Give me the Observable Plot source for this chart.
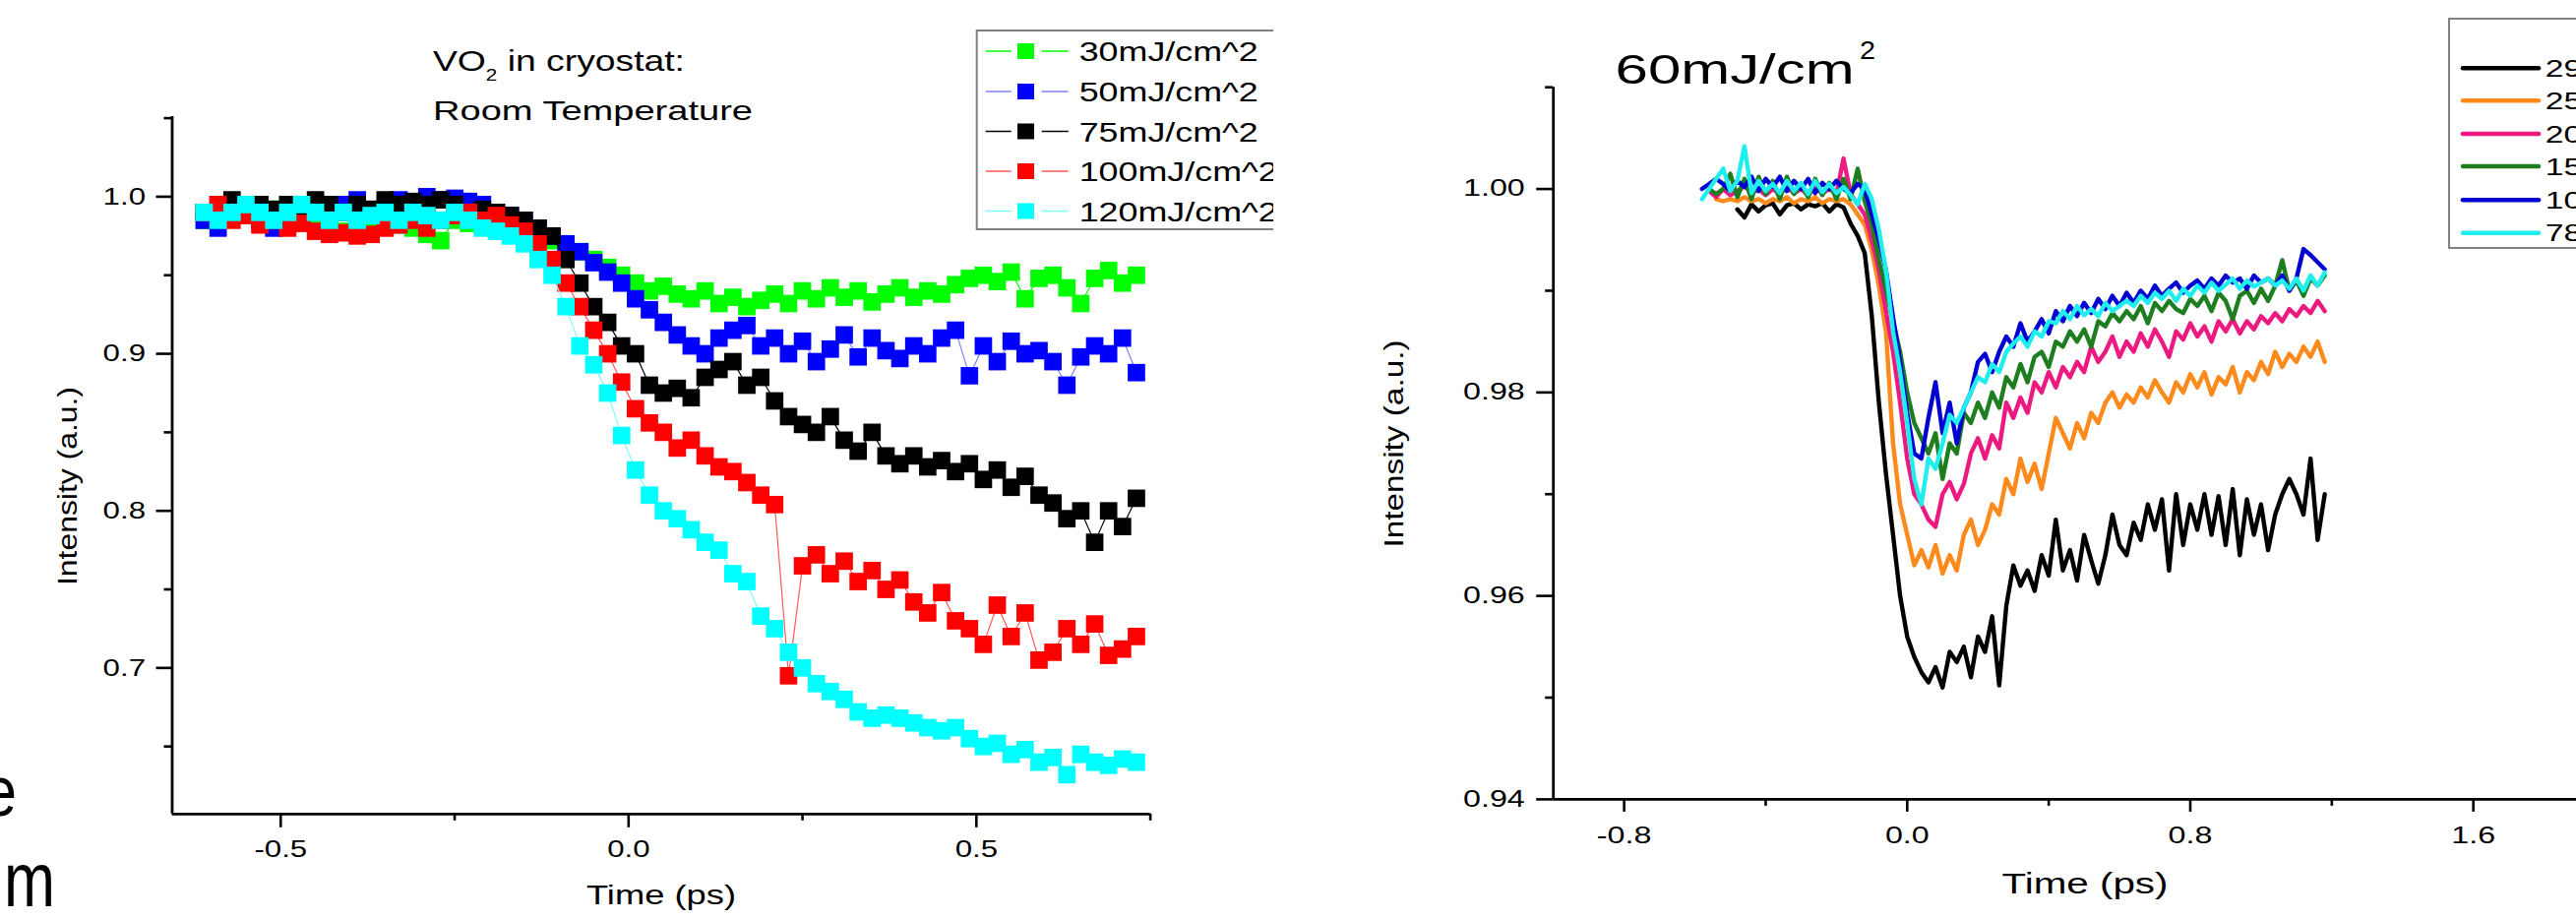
<!DOCTYPE html>
<html><head><meta charset="utf-8">
<script src="https://cdn.jsdelivr.net/npm/d3@7"></script>
<script src="https://cdn.jsdelivr.net/npm/@observablehq/plot@0.6"></script>
<style>
html,body{margin:0;padding:0;background:#fff;overflow:hidden;}
#page{position:relative;width:2618px;height:934px;overflow:hidden;background:#fff;}
#page > *{position:absolute;top:0;}
</style></head><body><div id="page"></div>
<script>
// ---------- LEFT PANEL DATA ----------
const leftTime = [-0.61,-0.59,-0.57,-0.55,-0.53,-0.51,-0.49,-0.47,-0.45,-0.43,-0.41,-0.39,-0.37,-0.35,-0.33,-0.31,-0.29,-0.27,-0.25,-0.23,-0.21,-0.19,-0.17,-0.15,-0.13,-0.11,-0.09,-0.07,-0.05,-0.03,-0.01,0.01,0.03,0.05,0.07,0.09,0.11,0.13,0.15,0.17,0.19,0.21,0.23,0.25,0.27,0.29,0.31,0.33,0.35,0.37,0.39,0.41,0.43,0.45,0.47,0.49,0.51,0.53,0.55,0.57,0.59,0.61,0.63,0.65,0.67,0.69,0.71,0.73];
const leftSeries = ["30mJ/cm^2","50mJ/cm^2","75mJ/cm^2","100mJ/cm^2","120mJ/cm^2"];
const left30 = [0.985,0.990,0.995,0.990,0.988,0.992,0.985,0.990,0.984,0.980,
0.978,0.982,0.980,0.985,0.982,0.980,0.976,0.972,0.985,0.983,
0.982,0.985,0.980,0.978,0.975,0.972,0.968,0.965,0.960,0.955,
0.950,0.945,0.940,0.943,0.938,0.935,0.940,0.932,0.936,0.930,
0.934,0.938,0.932,0.940,0.935,0.942,0.936,0.940,0.933,0.938,
0.942,0.936,0.940,0.938,0.944,0.948,0.950,0.946,0.952,0.935,
0.948,0.950,0.942,0.932,0.948,0.953,0.945,0.950];
const left50 = [0.985,0.980,0.990,0.995,0.985,0.980,0.990,0.985,0.995,0.990,
0.995,0.998,0.990,0.992,0.998,0.995,1.000,0.998,0.999,0.997,
0.995,0.990,0.988,0.985,0.980,0.975,0.970,0.965,0.958,0.952,
0.945,0.935,0.928,0.920,0.912,0.905,0.900,0.910,0.915,0.918,
0.905,0.910,0.900,0.908,0.895,0.903,0.912,0.898,0.910,0.902,
0.897,0.905,0.900,0.910,0.915,0.886,0.905,0.895,0.908,0.900,
0.902,0.895,0.880,0.898,0.905,0.900,0.910,0.888];
const left75 = [0.990,0.995,0.998,0.990,0.995,0.992,0.995,0.990,0.998,0.995,
0.990,0.995,0.992,0.998,0.995,0.997,0.995,0.998,0.995,0.990,
0.992,0.990,0.988,0.985,0.980,0.975,0.960,0.945,0.930,0.920,
0.905,0.900,0.880,0.875,0.878,0.872,0.885,0.890,0.895,0.880,
0.885,0.870,0.860,0.855,0.850,0.860,0.845,0.838,0.850,0.835,
0.830,0.835,0.828,0.832,0.825,0.830,0.820,0.826,0.815,0.822,
0.810,0.805,0.795,0.800,0.780,0.800,0.790,0.808];
const left100 = [0.990,0.995,0.985,0.988,0.982,0.985,0.980,0.983,0.978,0.976,
0.977,0.975,0.976,0.980,0.982,0.985,0.980,0.985,0.988,0.990,
0.985,0.988,0.982,0.978,0.970,0.960,0.945,0.930,0.915,0.900,
0.882,0.865,0.856,0.850,0.840,0.845,0.835,0.828,0.825,0.818,
0.810,0.804,0.695,0.765,0.772,0.760,0.768,0.755,0.762,0.750,
0.756,0.742,0.735,0.748,0.730,0.725,0.715,0.740,0.720,0.735,
0.705,0.710,0.725,0.715,0.728,0.708,0.712,0.720];
const left120 = [0.990,0.985,0.990,0.995,0.990,0.985,0.990,0.995,0.990,0.985,
0.990,0.985,0.988,0.990,0.985,0.990,0.988,0.985,0.990,0.985,
0.980,0.978,0.975,0.970,0.960,0.950,0.930,0.905,0.893,0.875,
0.848,0.826,0.810,0.800,0.795,0.788,0.780,0.775,0.760,0.755,
0.733,0.725,0.710,0.700,0.690,0.685,0.680,0.672,0.668,0.670,
0.668,0.665,0.662,0.660,0.662,0.655,0.650,0.652,0.645,0.648,
0.640,0.643,0.632,0.645,0.640,0.638,0.642,0.640];
const leftYTicks = [0.7,0.8,0.9,1.0];
const leftYMinor = [0.65,0.75,0.85,0.95,1.05];
const leftXTicks = [-0.5,0.0,0.5];
const leftXMinor = [-0.25,0.25,0.75];

// ---------- RIGHT PANEL DATA ----------
const rightTime = [-0.58,-0.56,-0.54,-0.52,-0.50,-0.48,-0.46,-0.44,-0.42,-0.40,
-0.38,-0.36,-0.34,-0.32,-0.30,-0.28,-0.26,-0.24,-0.22,-0.20,
-0.18,-0.16,-0.14,-0.12,-0.10,-0.08,-0.06,-0.04,-0.02,0.00,
0.02,0.04,0.06,0.08,0.10,0.12,0.14,0.16,0.18,0.20,
0.22,0.24,0.26,0.28,0.30,0.32,0.34,0.36,0.38,0.40,
0.42,0.44,0.46,0.48,0.50,0.52,0.54,0.56,0.58,0.60,
0.62,0.64,0.66,0.68,0.70,0.72,0.74,0.76,0.78,0.80,
0.82,0.84,0.86,0.88,0.90,0.92,0.94,0.96,0.98,1.00,
1.02,1.04,1.06,1.08,1.10,1.12,1.14,1.16,1.18];
const rightSeries = ["29","25","20","15","10","78"];
const r29 = [null,null,null,null,null,0.9980,0.9972,0.9985,0.9978,0.9984,
0.9986,0.9975,0.9984,0.9986,0.9980,0.9985,0.9983,0.9986,0.9978,0.9985,
0.9982,0.9966,0.9954,0.9937,0.9875,0.9790,0.9720,0.9660,0.9600,0.9560,
0.9540,0.9525,0.9515,0.9530,0.9510,0.9545,0.9535,0.9550,0.9520,0.9560,
0.9545,0.9580,0.9512,0.9590,0.9630,0.9610,0.9625,0.9605,0.9640,0.9620,
0.9675,0.9625,0.9645,0.9615,0.9660,0.9635,0.9612,0.9640,0.9680,0.9650,
0.9640,0.9672,0.9655,0.9690,0.9665,0.9695,0.9625,0.9700,0.9650,0.9690,
0.9665,0.9700,0.9660,0.9698,0.9650,0.9705,0.9640,0.9695,0.9660,0.9690,
0.9645,0.9680,0.9700,0.9715,0.9700,0.9680,0.9735,0.9655,0.9700];
const r25 = [null,null,0.9990,0.9988,0.9990,0.9988,0.9992,0.9988,0.9990,0.9986,
0.9990,0.9988,0.9992,0.9986,0.9990,0.9988,0.9992,0.9986,0.9990,0.9988,
0.9990,0.9985,0.9975,0.9965,0.9940,0.9905,0.9860,0.9750,0.9690,0.9660,
0.9630,0.9645,0.9628,0.9650,0.9622,0.9640,0.9625,0.9660,0.9675,0.9650,
0.9665,0.9690,0.9680,0.9715,0.9700,0.9735,0.9712,0.9730,0.9705,0.9740,
0.9775,0.9760,0.9745,0.9770,0.9755,0.9780,0.9770,0.9790,0.9800,0.9785,
0.9798,0.9790,0.9805,0.9795,0.9812,0.9800,0.9790,0.9810,0.9800,0.9818,
0.9805,0.9820,0.9798,0.9815,0.9808,0.9825,0.9800,0.9820,0.9812,0.9830,
0.9818,0.9840,0.9825,0.9838,0.9830,0.9845,0.9835,0.9850,0.9830];
const r20 = [null,0.9998,0.9992,1.0000,0.9994,0.9998,1.0003,0.9996,1.0000,0.9994,
1.0000,0.9995,1.0002,0.9996,1.0000,0.9994,1.0001,0.9996,1.0000,0.9995,
1.0030,0.9995,0.9985,0.9975,0.9950,0.9920,0.9880,0.9840,0.9790,0.9735,
0.9700,0.9690,0.9675,0.9668,0.9700,0.9712,0.9695,0.9710,0.9740,0.9755,
0.9735,0.9758,0.9745,0.9790,0.9775,0.9795,0.9780,0.9810,0.9800,0.9820,
0.9805,0.9825,0.9815,0.9830,0.9820,0.9845,0.9830,0.9840,0.9855,0.9835,
0.9850,0.9840,0.9858,0.9845,0.9862,0.9850,0.9835,0.9860,0.9852,0.9868,
0.9855,0.9865,0.9850,0.9870,0.9860,0.9872,0.9858,0.9870,0.9862,0.9875,
0.9868,0.9878,0.9870,0.9882,0.9875,0.9885,0.9878,0.9890,0.9880];
const r15 = [null,1.0000,0.9995,1.0000,1.0015,0.9992,1.0010,0.9990,1.0012,0.9995,
1.0008,0.9990,1.0012,0.9995,1.0005,0.9992,1.0010,0.9994,1.0006,0.9990,
1.0010,0.9990,1.0020,0.9988,0.9965,0.9930,0.9900,0.9870,0.9840,0.9800,
0.9770,0.9755,0.9740,0.9760,0.9715,0.9750,0.9740,0.9780,0.9770,0.9790,
0.9775,0.9800,0.9785,0.9815,0.9805,0.9828,0.9810,0.9835,0.9840,0.9825,
0.9850,0.9845,0.9860,0.9850,0.9862,0.9845,0.9870,0.9865,0.9878,0.9870,
0.9880,0.9872,0.9885,0.9868,0.9888,0.9880,0.9890,0.9882,0.9878,0.9892,
0.9885,0.9895,0.9880,0.9898,0.9890,0.9872,0.9895,0.9900,0.9888,0.9902,
0.9890,0.9905,0.9930,0.9900,0.9910,0.9895,0.9912,0.9905,0.9915];
const r10 = [1.0000,1.0005,1.0010,1.0005,0.9998,1.0008,1.0002,1.0012,0.9998,1.0010,
1.0002,1.0012,0.9998,1.0008,1.0000,1.0010,0.9996,1.0006,1.0000,1.0008,
1.0000,0.9996,1.0005,1.0000,0.9975,0.9950,0.9920,0.9874,0.9830,0.9780,
0.9740,0.9735,0.9775,0.9810,0.9760,0.9790,0.9750,0.9785,0.9800,0.9830,
0.9838,0.9820,0.9840,0.9855,0.9845,0.9868,0.9850,0.9860,0.9872,0.9858,
0.9880,0.9870,0.9885,0.9875,0.9888,0.9878,0.9892,0.9882,0.9895,0.9885,
0.9898,0.9888,0.9900,0.9892,0.9905,0.9895,0.9902,0.9908,0.9898,0.9905,
0.9910,0.9902,0.9912,0.9905,0.9915,0.9908,0.9912,0.9902,0.9915,0.9908,
0.9912,0.9905,0.9915,0.9900,0.9912,0.9941,0.9935,0.9928,0.9921];
const r78 = [0.9990,1.0000,1.0010,1.0020,0.9998,1.0008,1.0042,0.9996,1.0008,0.9998,
1.0005,0.9996,1.0008,0.9998,1.0006,0.9995,1.0008,0.9997,1.0005,0.9996,
1.0002,0.9994,0.9985,1.0005,0.9990,0.9960,0.9920,0.9860,0.9820,0.9770,
0.9715,0.9690,0.9735,0.9725,0.9750,0.9778,0.9770,0.9785,0.9800,0.9815,
0.9810,0.9828,0.9820,0.9840,0.9848,0.9855,0.9845,0.9860,0.9855,0.9870,
0.9868,0.9880,0.9872,0.9885,0.9876,0.9882,0.9875,0.9888,0.9880,0.9885,
0.9890,0.9885,0.9895,0.9888,0.9898,0.9892,0.9900,0.9890,0.9902,0.9895,
0.9905,0.9898,0.9908,0.9900,0.9906,0.9912,0.9902,0.9910,0.9904,0.9908,
0.9912,0.9905,0.9910,0.9902,0.9912,0.9900,0.9915,0.9905,0.9918];
const rightYTicks = [0.94,0.96,0.98,1.00];
const rightYMinor = [0.95,0.97,0.99,1.01];
const rightXTicks = [-0.8,0.0,0.8,1.6];
const rightXMinor = [-0.4,0.4,1.2,2.0];

// ---------- STYLE ----------
const FONT = '"Liberation Sans", Arial, Helvetica, sans-serif';
const leftFill = ["#00ff00","#0000ff","#000000","#ff0000","#00ffff"];
const leftLine = ["#00ff00","#8080ff","#000000","#ff5a5a","#80ffff"];
const rightColors = ["#000000","#ff8a1c","#ec1a80","#1e7d1e","#0000d2","#20eeee"];

const rows = (time, vals, s) => time.map((t, i) => ({t, v: vals[i], s}));
const f1 = d => d.toFixed(1);
const f2 = d => d.toFixed(2);

// ---------- LEFT PLOT ----------
const leftVals = [left30, left50, left75, left100, left120];
const leftMarks = [];
leftVals.forEach((vals, k) => {
  const data = rows(leftTime, vals, leftSeries[k]);
  leftMarks.push(Plot.line(data, {x: "t", y: "v", stroke: leftLine[k], strokeWidth: 1.2}));
  leftMarks.push(Plot.dot(data, {x: "t", y: "v", symbol: "square", r: 10, fill: leftFill[k], stroke: "none"}));
});
const LX = [-0.656, 0.75], LY = [0.607, 1.051];
const leftPlot = Plot.plot({
  width: 1294, height: 934,
  marginLeft: 174.5, marginRight: 125.4, marginTop: 118, marginBottom: 107.2,
  x: {domain: LX}, y: {domain: LY},
  style: {fontFamily: FONT, fontSize: "24px", color: "#000", background: "transparent", overflow: "visible"},
  marks: [
    ...leftMarks,
    Plot.ruleX([LX[0]], {stroke: "#000", strokeWidth: 2.8}),
    Plot.ruleY([LY[0]], {stroke: "#000", strokeWidth: 2.8}),
    Plot.axisY({ticks: leftYTicks, tickSize: 16, tickPadding: 11, tickFormat: f1, strokeWidth: 2.6, label: null}),
    Plot.axisY({ticks: leftYMinor, tickSize: 8, tickFormat: () => "", strokeWidth: 2.6, label: null}),
    Plot.axisX({ticks: leftXTicks, tickSize: 14, tickPadding: 13, tickFormat: f1, strokeWidth: 2.6, label: null}),
    Plot.axisX({ticks: leftXMinor, tickSize: 7, tickFormat: () => "", strokeWidth: 2.6, label: null})
  ]
});

// ---------- RIGHT PLOT ----------
const rightVals = [r29, r25, r20, r15, r10, r78];
const rightMarks = rightVals.map((vals, k) =>
  Plot.line(rows(rightTime, vals, rightSeries[k]), {x: "t", y: "v", stroke: rightColors[k], strokeWidth: 4.4, strokeLinejoin: "round"}));
const RX = [-1.0, 2.0], RY = [0.94, 1.01];
const rightPlot = Plot.plot({
  width: 1400, height: 934,
  marginLeft: 278.2, marginRight: 43, marginTop: 88.2, marginBottom: 122.1,
  x: {domain: RX}, y: {domain: RY},
  style: {fontFamily: FONT, fontSize: "23px", color: "#000", background: "transparent", overflow: "visible"},
  marks: [
    ...rightMarks,
    Plot.ruleX([RX[0]], {stroke: "#000", strokeWidth: 2.8}),
    Plot.ruleY([RY[0]], {stroke: "#000", strokeWidth: 2.8}),
    Plot.axisY({ticks: rightYTicks, tickSize: 17, tickPadding: 12, tickFormat: f2, strokeWidth: 2.6, label: null}),
    Plot.axisY({ticks: rightYMinor, tickSize: 8, tickFormat: () => "", strokeWidth: 2.6, label: null}),
    Plot.axisX({ticks: rightXTicks, tickSize: 13, tickPadding: 15, tickFormat: f1, strokeWidth: 2.6, label: null}),
    Plot.axisX({ticks: rightXMinor, tickSize: 7, tickFormat: () => "", strokeWidth: 2.6, label: null})
  ]
});

const page = document.getElementById("page");
leftPlot.style.left = "0px";
rightPlot.style.left = "1300px";
page.appendChild(leftPlot);
page.appendChild(rightPlot);

function stretch(el, S) {
  const L = el.getComputedTextLength();
  if (L > 0) { el.setAttribute("textLength", (L * S).toFixed(1)); el.setAttribute("lengthAdjust", "spacingAndGlyphs"); }
}
leftPlot.querySelectorAll("text").forEach(t => stretch(t, 1.3));
rightPlot.querySelectorAll("text").forEach(t => stretch(t, 1.4));

// ---------- OVERLAY: titles, labels, legends ----------
const ov = d3.create("svg").attr("width", 2618).attr("height", 934)
  .style("left", "0px").style("font-family", FONT).attr("fill", "#000");
page.appendChild(ov.node());

function fitText(sel, len) { sel.attr("textLength", len).attr("lengthAdjust", "spacingAndGlyphs"); return sel; }

// slide text fragments at the left page edge (cut in the original as well)
fitText(ov.append("text").attr("x", -17).attr("y", 829).attr("font-size", 73).text("e"), 34);
fitText(ov.append("text").attr("x", 4).attr("y", 921).attr("font-size", 77).text("m"), 52);

// left chart title
const t1 = ov.append("text").attr("x", 440).attr("y", 71.7).attr("font-size", 29);
t1.append("tspan").text("VO");
t1.append("tspan").attr("font-size", 16).attr("dy", 10).text("2");
t1.append("tspan").attr("dy", -10).text(" in cryostat:");
fitText(t1, 256);
fitText(ov.append("text").attr("x", 440).attr("y", 121.7).attr("font-size", 28).text("Room Temperature"), 325);

// left axis labels
fitText(ov.append("text").attr("x", 596).attr("y", 919).attr("font-size", 28).text("Time (ps)"), 152);
fitText(ov.append("text").attr("transform", "translate(68,494) rotate(-90)").attr("x", -101).attr("y", 10).attr("font-size", 27).text("Intensity (a.u.)"), 202);

// right chart title
fitText(ov.append("text").attr("x", 1641.6).attr("y", 85).attr("font-size", 42).text("60mJ/cm"), 243);
fitText(ov.append("text").attr("x", 1890).attr("y", 60).attr("font-size", 25).text("2"), 16);

// right axis labels
fitText(ov.append("text").attr("x", 2034.5).attr("y", 908).attr("font-size", 29).text("Time (ps)"), 169);
fitText(ov.append("text").attr("transform", "translate(1416,451) rotate(-90)").attr("x", -105.5).attr("y", 10).attr("font-size", 27).text("Intensity (a.u.)"), 211);

// left legend (clipped at the edge of the left chart image)
const lg = ov.append("svg").attr("x", 0).attr("y", 0).attr("width", 1294).attr("height", 300);
lg.append("rect").attr("x", 992.7).attr("y", 31).attr("width", 400).attr("height", 202)
  .attr("fill", "#fff").attr("stroke", "#808080").attr("stroke-width", 2);
const legY = [52, 93, 133.5, 174, 214.5];
leftSeries.forEach((name, k) => {
  const cy = legY[k];
  lg.append("line").attr("x1", 1001.7).attr("x2", 1027.7).attr("y1", cy).attr("y2", cy).attr("stroke", leftLine[k]).attr("stroke-width", 1.5);
  lg.append("line").attr("x1", 1058.7).attr("x2", 1085.7).attr("y1", cy).attr("y2", cy).attr("stroke", leftLine[k]).attr("stroke-width", 1.5);
  lg.append("rect").attr("x", 1034).attr("y", cy - 8).attr("width", 17).attr("height", 16).attr("fill", leftFill[k]);
  const tx = lg.append("text").attr("x", 1096.7).attr("y", cy + 10).attr("font-size", 28).text(name);
  stretch(tx.node(), 1.28);
});

// right legend (cut by the page edge)
ov.append("rect").attr("x", 2489).attr("y", 19).attr("width", 200).attr("height", 233)
  .attr("fill", "#fff").attr("stroke", "#808080").attr("stroke-width", 2);
const rlegY = [69.3, 102.3, 136, 169, 203.3, 236.7];
rightSeries.forEach((name, k) => {
  const cy = rlegY[k];
  ov.append("line").attr("x1", 2503).attr("x2", 2580).attr("y1", cy).attr("y2", cy)
    .attr("stroke", rightColors[k]).attr("stroke-width", 4.5).attr("stroke-linecap", "round");
  const tx = ov.append("text").attr("x", 2586.7).attr("y", cy + 8.5).attr("font-size", 24).text(name);
  stretch(tx.node(), 1.4);
});
</script>
</body></html>
